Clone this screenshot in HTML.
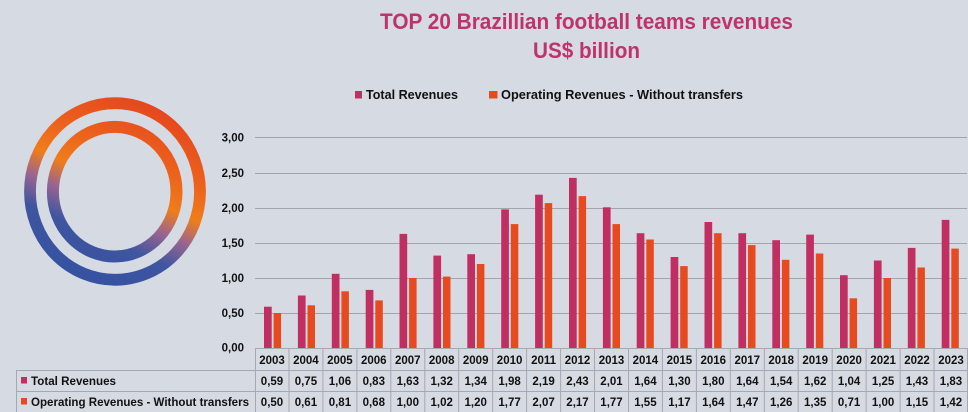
<!DOCTYPE html>
<html><head><meta charset="utf-8"><style>
html,body{margin:0;padding:0;background:#d6dae3;}
svg{display:block;}
text{font-family:"Liberation Sans",Arial,sans-serif;}
</style></head><body>
<svg width="968" height="412" viewBox="0 0 968 412" xmlns="http://www.w3.org/2000/svg">
<defs>
<linearGradient id="rg" gradientUnits="userSpaceOnUse" x1="154" y1="104" x2="76" y2="278">
<stop offset="0" stop-color="#e4461f"/>
<stop offset="0.3" stop-color="#ec631c"/>
<stop offset="0.47" stop-color="#f07d1a"/>
<stop offset="0.6" stop-color="#9a6590"/>
<stop offset="0.75" stop-color="#3f55a0"/>
<stop offset="1" stop-color="#3552a0"/>
</linearGradient>
</defs>
<rect width="968" height="412" fill="#d6dae3"/>
<ellipse cx="115" cy="191.5" rx="85" ry="88.3" fill="none" stroke="url(#rg)" stroke-width="11.8"/>
<ellipse cx="114.7" cy="191.7" rx="61.8" ry="64.8" fill="none" stroke="url(#rg)" stroke-width="12"/>

<text x="380" y="29" font-size="22" font-weight="bold" fill="#c0336a" textLength="413" lengthAdjust="spacingAndGlyphs">TOP 20 Brazillian football teams revenues</text>
<text x="533" y="58" font-size="22" font-weight="bold" fill="#c0336a" textLength="107" lengthAdjust="spacingAndGlyphs">US$ billion</text>

<rect x="355" y="91" width="7" height="7.5" fill="#c02e62"/>
<text x="366" y="99" font-size="13" font-weight="bold" fill="#111" textLength="92" lengthAdjust="spacingAndGlyphs">Total Revenues</text>
<rect x="489" y="91" width="8.5" height="7.5" fill="#e84a1f"/>
<text x="501" y="99" font-size="13" font-weight="bold" fill="#111" textLength="242" lengthAdjust="spacingAndGlyphs">Operating Revenues - Without transfers</text>

<g stroke="#a3a5ab" stroke-width="1">
<line x1="255" y1="137.5" x2="967" y2="137.5"/>
<line x1="255" y1="173.5" x2="967" y2="173.5"/>
<line x1="255" y1="208.5" x2="967" y2="208.5"/>
<line x1="255" y1="243.5" x2="967" y2="243.5"/>
<line x1="255" y1="278.5" x2="967" y2="278.5"/>
<line x1="255" y1="313.5" x2="967" y2="313.5"/>
</g>

<g font-size="11.5" font-weight="bold" fill="#111" text-anchor="end">
<text x="244" y="141.5">3,00</text>
<text x="244" y="177">2,50</text>
<text x="244" y="212">2,00</text>
<text x="244" y="247">1,50</text>
<text x="244" y="282">1,00</text>
<text x="244" y="317">0,50</text>
<text x="244" y="351.5">0,00</text>
</g>

<g fill="#c02e62">
<rect x="264.0" y="306.7" width="7.7" height="41.3"/>
<rect x="297.9" y="295.5" width="7.7" height="52.5"/>
<rect x="331.8" y="273.8" width="7.7" height="74.2"/>
<rect x="365.7" y="289.9" width="7.7" height="58.1"/>
<rect x="399.5" y="233.9" width="7.7" height="114.1"/>
<rect x="433.4" y="255.6" width="7.7" height="92.4"/>
<rect x="467.3" y="254.2" width="7.7" height="93.8"/>
<rect x="501.2" y="209.4" width="7.7" height="138.6"/>
<rect x="535.1" y="194.7" width="7.7" height="153.3"/>
<rect x="569.0" y="177.9" width="7.7" height="170.1"/>
<rect x="602.9" y="207.3" width="7.7" height="140.7"/>
<rect x="636.7" y="233.2" width="7.7" height="114.8"/>
<rect x="670.6" y="257.0" width="7.7" height="91.0"/>
<rect x="704.5" y="222.0" width="7.7" height="126.0"/>
<rect x="738.4" y="233.2" width="7.7" height="114.8"/>
<rect x="772.3" y="240.2" width="7.7" height="107.8"/>
<rect x="806.2" y="234.6" width="7.7" height="113.4"/>
<rect x="840.0" y="275.2" width="7.7" height="72.8"/>
<rect x="873.9" y="260.5" width="7.7" height="87.5"/>
<rect x="907.8" y="247.9" width="7.7" height="100.1"/>
<rect x="941.7" y="219.9" width="7.7" height="128.1"/>
</g>
<g fill="#e84a1f">
<rect x="273.6" y="313.0" width="7.5" height="35.0"/>
<rect x="307.5" y="305.3" width="7.5" height="42.7"/>
<rect x="341.4" y="291.3" width="7.5" height="56.7"/>
<rect x="375.3" y="300.4" width="7.5" height="47.6"/>
<rect x="409.1" y="278.0" width="7.5" height="70.0"/>
<rect x="443.0" y="276.6" width="7.5" height="71.4"/>
<rect x="476.9" y="264.0" width="7.5" height="84.0"/>
<rect x="510.8" y="224.1" width="7.5" height="123.9"/>
<rect x="544.7" y="203.1" width="7.5" height="144.9"/>
<rect x="578.6" y="196.1" width="7.5" height="151.9"/>
<rect x="612.5" y="224.1" width="7.5" height="123.9"/>
<rect x="646.3" y="239.5" width="7.5" height="108.5"/>
<rect x="680.2" y="266.1" width="7.5" height="81.9"/>
<rect x="714.1" y="233.2" width="7.5" height="114.8"/>
<rect x="748.0" y="245.1" width="7.5" height="102.9"/>
<rect x="781.9" y="259.8" width="7.5" height="88.2"/>
<rect x="815.8" y="253.5" width="7.5" height="94.5"/>
<rect x="849.6" y="298.3" width="7.5" height="49.7"/>
<rect x="883.5" y="278.0" width="7.5" height="70.0"/>
<rect x="917.4" y="267.5" width="7.5" height="80.5"/>
<rect x="951.3" y="248.6" width="7.5" height="99.4"/>
</g>

<g stroke="#a6a8ae" stroke-width="1" fill="none">
<line x1="255" y1="348.5" x2="968" y2="348.5"/>
<line x1="16" y1="370.5" x2="968" y2="370.5"/>
<line x1="16" y1="391.5" x2="968" y2="391.5"/>
<line x1="16.5" y1="370.5" x2="16.5" y2="412"/>
<path d="M255.5 348.5V412M289 348.5V412M322.9 348.5V412M356.9 348.5V412M390.8 348.5V412M424.8 348.5V412M458.7 348.5V412M492.7 348.5V412M526.6 348.5V412M560.6 348.5V412M594.5 348.5V412M628.5 348.5V412M662.4 348.5V412M696.4 348.5V412M730.3 348.5V412M764.3 348.5V412M798.2 348.5V412M832.2 348.5V412M866.1 348.5V412M900.1 348.5V412M934 348.5V412M967.5 348.5V412"/>
</g>

<rect x="21" y="377" width="6" height="6.5" fill="#c02e62"/>
<text x="31" y="385" font-size="11.5" font-weight="bold" fill="#111" textLength="85" lengthAdjust="spacingAndGlyphs">Total Revenues</text>
<rect x="21" y="398" width="6" height="6.5" fill="#e84a1f"/>
<text x="31" y="406" font-size="11.5" font-weight="bold" fill="#111" textLength="218" lengthAdjust="spacingAndGlyphs">Operating Revenues - Without transfers</text>

<g font-size="11.5" font-weight="bold" fill="#111" text-anchor="middle">
<text x="272.0" y="364">2003</text>
<text x="305.9" y="364">2004</text>
<text x="339.9" y="364">2005</text>
<text x="373.8" y="364">2006</text>
<text x="407.8" y="364">2007</text>
<text x="441.7" y="364">2008</text>
<text x="475.7" y="364">2009</text>
<text x="509.6" y="364">2010</text>
<text x="543.6" y="364">2011</text>
<text x="577.5" y="364">2012</text>
<text x="611.5" y="364">2013</text>
<text x="645.4" y="364">2014</text>
<text x="679.4" y="364">2015</text>
<text x="713.3" y="364">2016</text>
<text x="747.3" y="364">2017</text>
<text x="781.2" y="364">2018</text>
<text x="815.2" y="364">2019</text>
<text x="849.1" y="364">2020</text>
<text x="883.1" y="364">2021</text>
<text x="917.0" y="364">2022</text>
<text x="951.0" y="364">2023</text>

<text x="272.0" y="385">0,59</text>
<text x="305.9" y="385">0,75</text>
<text x="339.9" y="385">1,06</text>
<text x="373.8" y="385">0,83</text>
<text x="407.8" y="385">1,63</text>
<text x="441.7" y="385">1,32</text>
<text x="475.7" y="385">1,34</text>
<text x="509.6" y="385">1,98</text>
<text x="543.6" y="385">2,19</text>
<text x="577.5" y="385">2,43</text>
<text x="611.5" y="385">2,01</text>
<text x="645.4" y="385">1,64</text>
<text x="679.4" y="385">1,30</text>
<text x="713.3" y="385">1,80</text>
<text x="747.3" y="385">1,64</text>
<text x="781.2" y="385">1,54</text>
<text x="815.2" y="385">1,62</text>
<text x="849.1" y="385">1,04</text>
<text x="883.1" y="385">1,25</text>
<text x="917.0" y="385">1,43</text>
<text x="951.0" y="385">1,83</text>

<text x="272.0" y="406">0,50</text>
<text x="305.9" y="406">0,61</text>
<text x="339.9" y="406">0,81</text>
<text x="373.8" y="406">0,68</text>
<text x="407.8" y="406">1,00</text>
<text x="441.7" y="406">1,02</text>
<text x="475.7" y="406">1,20</text>
<text x="509.6" y="406">1,77</text>
<text x="543.6" y="406">2,07</text>
<text x="577.5" y="406">2,17</text>
<text x="611.5" y="406">1,77</text>
<text x="645.4" y="406">1,55</text>
<text x="679.4" y="406">1,17</text>
<text x="713.3" y="406">1,64</text>
<text x="747.3" y="406">1,47</text>
<text x="781.2" y="406">1,26</text>
<text x="815.2" y="406">1,35</text>
<text x="849.1" y="406">0,71</text>
<text x="883.1" y="406">1,00</text>
<text x="917.0" y="406">1,15</text>
<text x="951.0" y="406">1,42</text>
</g>
</svg>
</body></html>
